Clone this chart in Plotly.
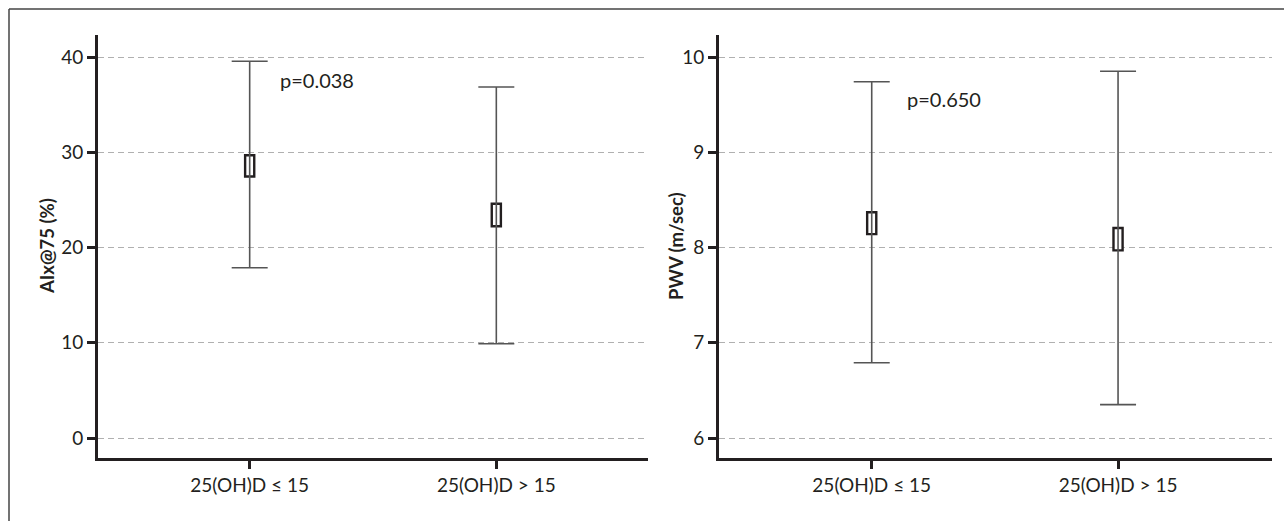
import plotly.graph_objects as go

# ---------------- data ----------------
categories = ["25(OH)D ≤ 15", "25(OH)D > 15"]
cat_pos = [1, 2]

aix_mean = [28.55, 23.4]
aix_box_low = [27.45, 22.23]
aix_box_high = [29.68, 24.59]
aix_ci_low = [17.88, 9.9]
aix_ci_high = [39.55, 36.85]

pwv_mean = [8.255, 8.09]
pwv_box_low = [8.14, 7.97]
pwv_box_high = [8.37, 8.205]
pwv_ci_low = [6.79, 6.35]
pwv_ci_high = [9.74, 9.85]

aix_ticks = [0, 10, 20, 30, 40]
pwv_ticks = [6, 7, 8, 9, 10]
p_texts = ["p=0.038", "p=0.650"]
y_titles = ["AIx@75 (%)", "PWV (m/sec)"]

# ---------------- style ----------------
W, H = 1284, 521
INK = "#231f20"
FONT = "Lato"

fig = go.Figure()

panels = [
    dict(xa="x", ya="y", mean=aix_mean, blo=aix_box_low, bhi=aix_box_high,
         clo=aix_ci_low, chi=aix_ci_high),
    dict(xa="x2", ya="y2", mean=pwv_mean, blo=pwv_box_low, bhi=pwv_box_high,
         clo=pwv_ci_low, chi=pwv_ci_high),
]

for p in panels:
    fig.add_trace(go.Bar(
        x=cat_pos,
        y=[h - l for h, l in zip(p["bhi"], p["blo"])],
        base=p["blo"],
        width=0.037,
        marker=dict(color="white", line=dict(color=INK, width=2.4)),
        xaxis=p["xa"], yaxis=p["ya"], showlegend=False, hoverinfo="skip",
    ))
    fig.add_trace(go.Scatter(
        x=cat_pos, y=p["mean"], mode="markers",
        marker=dict(size=1, color="rgba(0,0,0,0)"),
        error_y=dict(type="data", symmetric=False,
                     array=[h - m for h, m in zip(p["chi"], p["mean"])],
                     arrayminus=[m - l for m, l in zip(p["mean"], p["clo"])],
                     color="#555555", thickness=1.6, width=18),
        xaxis=p["xa"], yaxis=p["ya"], showlegend=False, hoverinfo="skip",
    ))

axis_common = dict(
    showline=True, linewidth=2.7, linecolor=INK,
    ticks="outside", ticklen=8, tickwidth=2.5, tickcolor=INK,
    zeroline=False, mirror=False,
    tickfont=dict(family=FONT, size=19, color=INK),
)

fig.update_layout(
    width=W, height=H,
    margin=dict(l=0, r=0, t=0, b=0),
    plot_bgcolor="white", paper_bgcolor="white",
    barmode="overlay",
    xaxis=dict(domain=[98 / W, 648 / W], range=[0.385, 2.615],
               tickvals=cat_pos, ticktext=categories, showgrid=False,
               anchor="y", **axis_common),
    yaxis=dict(domain=[1 - 458 / H, 1 - 35 / H], range=[-2.1, 42.31],
               tickvals=aix_ticks, showgrid=True, gridcolor="#b0b0b0",
               gridwidth=1.2, griddash="6px,4px", anchor="x", **axis_common),
    xaxis2=dict(domain=[719 / W, 1272 / W], range=[0.38, 2.625],
                tickvals=cat_pos, ticktext=categories, showgrid=False,
                anchor="y2", **axis_common),
    yaxis2=dict(domain=[1 - 458 / H, 1 - 35 / H], range=[5.79, 10.231],
                tickvals=pwv_ticks, showgrid=True, gridcolor="#b0b0b0",
                gridwidth=1.2, griddash="6px,4px", anchor="x2", **axis_common),
)

# p-value annotations
fig.add_annotation(x=1.113, y=37.57, xref="x", yref="y", text=p_texts[0],
                   showarrow=False, xanchor="left", yanchor="middle",
                   font=dict(family=FONT, size=20, color=INK))
fig.add_annotation(x=1.134, y=9.556, xref="x2", yref="y2", text=p_texts[1],
                   showarrow=False, xanchor="left", yanchor="middle",
                   font=dict(family=FONT, size=20, color=INK))

# y-axis titles
fig.add_annotation(x=47 / W, y=1 - 246 / H, xref="paper", yref="paper",
                   text="<b>" + y_titles[0] + "</b>", textangle=-90,
                   showarrow=False, xanchor="center", yanchor="middle",
                   font=dict(family=FONT, size=18.5, color=INK))
fig.add_annotation(x=676 / W, y=1 - 246 / H, xref="paper", yref="paper",
                   text="<b>" + y_titles[1] + "</b>", textangle=-90,
                   showarrow=False, xanchor="center", yanchor="middle",
                   font=dict(family=FONT, size=18.5, color=INK))

# outer frame: only its top and left edges are visible in the reference
fig.add_shape(type="line", xref="paper", yref="paper",
              x0=9 / W, x1=1.0, y0=1 - 9 / H, y1=1 - 9 / H,
              line=dict(color="#444444", width=1.5), layer="below")
fig.add_shape(type="line", xref="paper", yref="paper",
              x0=9 / W, x1=9 / W, y0=0.0, y1=1 - 9 / H,
              line=dict(color="#444444", width=1.5), layer="below")

fig.write_html("out.html",
               config={"displayModeBar": False},
               post_script="document.body.style.margin='0';"
                           "document.body.style.overflow='hidden';")
